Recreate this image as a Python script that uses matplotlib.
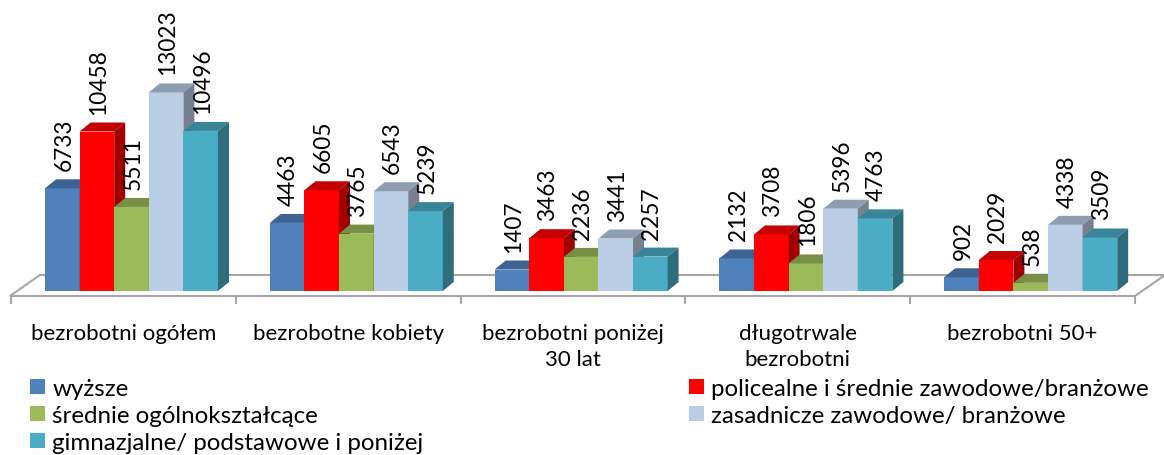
import matplotlib
matplotlib.use("Agg")
import matplotlib.pyplot as plt
from matplotlib.patches import Polygon, Patch
from matplotlib.colors import to_rgb

plt.rcParams["font.family"] = ["Lato", "DejaVu Sans"]

categories = ["bezrobotni ogółem", "bezrobotne kobiety", "bezrobotni poniżej\n30 lat",
              "długotrwale\nbezrobotni", "bezrobotni 50+"]
series_names = ["wyższe", "policealne i średnie zawodowe/branżowe", "średnie ogólnokształcące",
                "zasadnicze zawodowe/ branżowe", "gimnazjalne/ podstawowe i poniżej"]
wyzsze = [6733, 4463, 1407, 2132, 902]
policealne = [10458, 6605, 3463, 3708, 2029]
srednie_ogolne = [5511, 3765, 2236, 1806, 538]
zasadnicze = [13023, 6543, 3441, 5396, 4338]
gimnazjalne = [10496, 5239, 2257, 4763, 3509]
values = [wyzsze, policealne, srednie_ogolne, zasadnicze, gimnazjalne]
colors = ["#4F81BD", "#FF0000", "#9BBB59", "#B9CDE5", "#4BACC6"]

# skala: piksele -> jednostki danych
W, H = 1164, 456
PX_CAT = 224.8          # px na kategorię
U = 65.57               # jednostek na px
x_min = -0.5 - 11 / PX_CAT
y_min = -164 * U

bar_w = 34.6 / PX_CAT
bar_off = -78.4 / PX_CAT
dx, dy = 11 / PX_CAT, 9 * U          # głębokość słupka
fdx, f_front, f_back = 30 / PX_CAT, -5 * U, 16 * U   # podłoga


def shade(c, f):
    r, g, b = to_rgb(c)
    return (r * f, g * f, b * f)


fig = plt.figure(figsize=(W / 100, H / 100), dpi=100)
ax = fig.add_axes([0, 0, 1, 1])
ax.set_xlim(x_min, x_min + W / PX_CAT)
ax.set_ylim(y_min, y_min + H * U)
ax.axis("off")

n = len(categories)
floor_col = "#A6A6A6"
ax.add_patch(Polygon([(-0.5 - 1 / PX_CAT, f_front), (n - 0.5, f_front),
                      (n - 0.5 + fdx, f_back), (-0.5 - 1 / PX_CAT + fdx, f_back)],
                     closed=True, facecolor="white", edgecolor=floor_col, lw=1.5, zorder=1))
ax.vlines([i - 0.5 for i in range(n + 1)], f_front - 8 * U, f_front, color=floor_col, lw=1.5, zorder=1)

for s, (vals, col) in enumerate(zip(values, colors)):
    z = 2 + s * 0.1
    lefts = [i + bar_off + s * bar_w for i in range(n)]
    ax.bar(lefts, vals, width=bar_w, align="edge", color=col, zorder=z, linewidth=0)
    for x0, v in zip(lefts, vals):
        x1 = x0 + bar_w
        ax.add_patch(Polygon([(x0, v), (x1, v), (x1 + dx, v + dy), (x0 + dx, v + dy)],
                             facecolor=shade(col, 0.77), edgecolor="none", zorder=z + 0.01))
        ax.add_patch(Polygon([(x1, 0), (x1 + dx, dy), (x1 + dx, v + dy), (x1, v)],
                             facecolor=shade(col, 0.63), edgecolor="none", zorder=z + 0.02))
        ax.text(x0 + bar_w / 2 + 1.5 / PX_CAT, v + 18 * U, str(v), rotation=90,
                ha="center", va="bottom", fontsize=16.3, zorder=10)

for i, cat in enumerate(categories):
    ax.text(i, -32 * U, cat, ha="center", va="top", fontsize=16, linespacing=1.4)

handles = [Patch(facecolor=c, edgecolor="none") for c in colors]
leg_kw = dict(loc="upper left", frameon=False, fontsize=17.4, handlelength=0.62,
              handleheight=0.62, handletextpad=0.3, labelspacing=0.25,
              borderpad=0, borderaxespad=0)
fig.legend([handles[i] for i in (0, 2, 4)], [series_names[i] for i in (0, 2, 4)],
           bbox_to_anchor=(30 / W, 1 - 379 / H), **leg_kw)
fig.legend([handles[i] for i in (1, 3)], [series_names[i] for i in (1, 3)],
           bbox_to_anchor=(689 / W, 1 - 379 / H), **leg_kw)

fig.savefig("out.png", dpi=100)
